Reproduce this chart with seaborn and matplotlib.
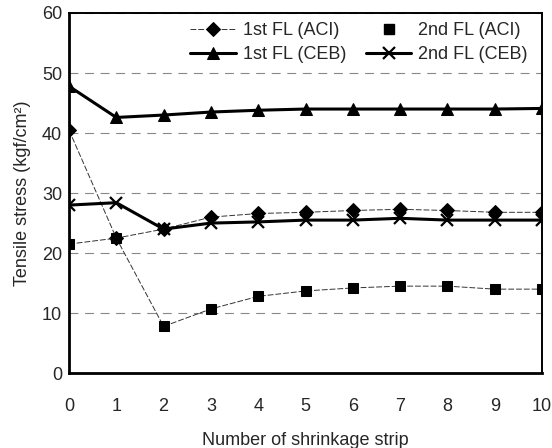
"""
Tensile stress by number of shrinkage strips (ACI vs CEB, 1st / 2nd floor).
"""

from matplotlib import pyplot as plt
from matplotlib.lines import Line2D
import pandas as pd
import seaborn as sns

#############################################################

strips = [0, 1, 2, 3, 4, 5, 6, 7, 8, 9, 10]

fl1_aci = [40.5, 22.5, 24.0, 26.0, 26.6, 26.8, 27.1, 27.3, 27.1, 26.8, 26.8]
fl2_aci = [21.5, 22.5, 7.8, 10.7, 12.8, 13.7, 14.2, 14.5, 14.5, 14.0, 14.0]
fl1_ceb = [47.8, 42.6, 43.0, 43.5, 43.8, 44.0, 44.0, 44.0, 44.0, 44.0, 44.1]
fl2_ceb = [28.0, 28.4, 24.0, 25.0, 25.2, 25.5, 25.5, 25.8, 25.5, 25.5, 25.5]

y_ticks = [0, 10, 20, 30, 40, 50, 60]

#############################################################

sns.set_style("white")
plt.rcParams['font.family'] = ['Liberation Sans', 'DejaVu Sans']

df = pd.DataFrame({"strip": strips,
                   "1st FL (ACI)": fl1_aci,
                   "2nd FL (ACI)": fl2_aci,
                   "1st FL (CEB)": fl1_ceb,
                   "2nd FL (CEB)": fl2_ceb})

fig = plt.figure(figsize=(5.52, 4.48), dpi=100)
ax = fig.add_axes([0.125, 0.167, 0.857, 0.804])

# thin ACI series
sns.lineplot(data=df, x="strip", y="1st FL (ACI)", ax=ax, color="#333333", lw=0.7,
             linestyle=(0, (6, 2)), marker="D", markersize=7, markerfacecolor="black",
             markeredgecolor="black", label="1st FL (ACI)")
sns.lineplot(data=df, x="strip", y="2nd FL (ACI)", ax=ax, color="#333333", lw=0.7,
             linestyle=(0, (6, 2)), marker="s", markersize=7.5, markerfacecolor="black",
             markeredgecolor="black", label="2nd FL (ACI)")

# thick CEB series
sns.lineplot(data=df, x="strip", y="1st FL (CEB)", ax=ax, color="black", lw=2.2,
             marker="^", markersize=8.5, markeredgecolor="black", label="1st FL (CEB)")
sns.lineplot(data=df, x="strip", y="2nd FL (CEB)", ax=ax, color="black", lw=2.2,
             marker="x", markersize=8, markeredgewidth=1.6, markeredgecolor="black",
             label="2nd FL (CEB)")

ax.set_xlim(0, 10)
ax.set_ylim(0, 60)
ax.set_xticks(strips)
ax.set_yticks(y_ticks)
ax.tick_params(axis="x", direction="in", length=4, width=0.8, pad=18, labelsize=13)
ax.tick_params(axis="y", length=0, pad=5, labelsize=13)

ax.yaxis.grid(True, linestyle=(0, (8, 6)), color="#888888", lw=0.8)
ax.set_axisbelow(True)

for side in ["left", "bottom"]:
    ax.spines[side].set_linewidth(2.0)
for side in ["top", "right"]:
    ax.spines[side].set_linewidth(1.4)
for side in ax.spines:
    ax.spines[side].set_color("black")

ax.set_xlabel("Number of shrinkage strip", fontsize=13, labelpad=12)
ax.set_ylabel("Tensile stress (kgf/cm²)", fontsize=13, labelpad=8)

# legend: 2nd FL (ACI) shown with the marker only, as in the original
handles, labels = ax.get_legend_handles_labels()
handles[1] = Line2D([], [], ls="none", marker="s", markersize=7.5, color="black")
order = [0, 2, 1, 3]
ax.legend([handles[i] for i in order], [labels[i] for i in order], ncol=2,
          loc="upper right", bbox_to_anchor=(0.97, 0.975), frameon=False,
          borderpad=0, borderaxespad=0, fontsize=13, handlelength=2.5,
          handletextpad=0.4, columnspacing=1.1, labelspacing=0.4)

plt.savefig("out.png", dpi=100)
